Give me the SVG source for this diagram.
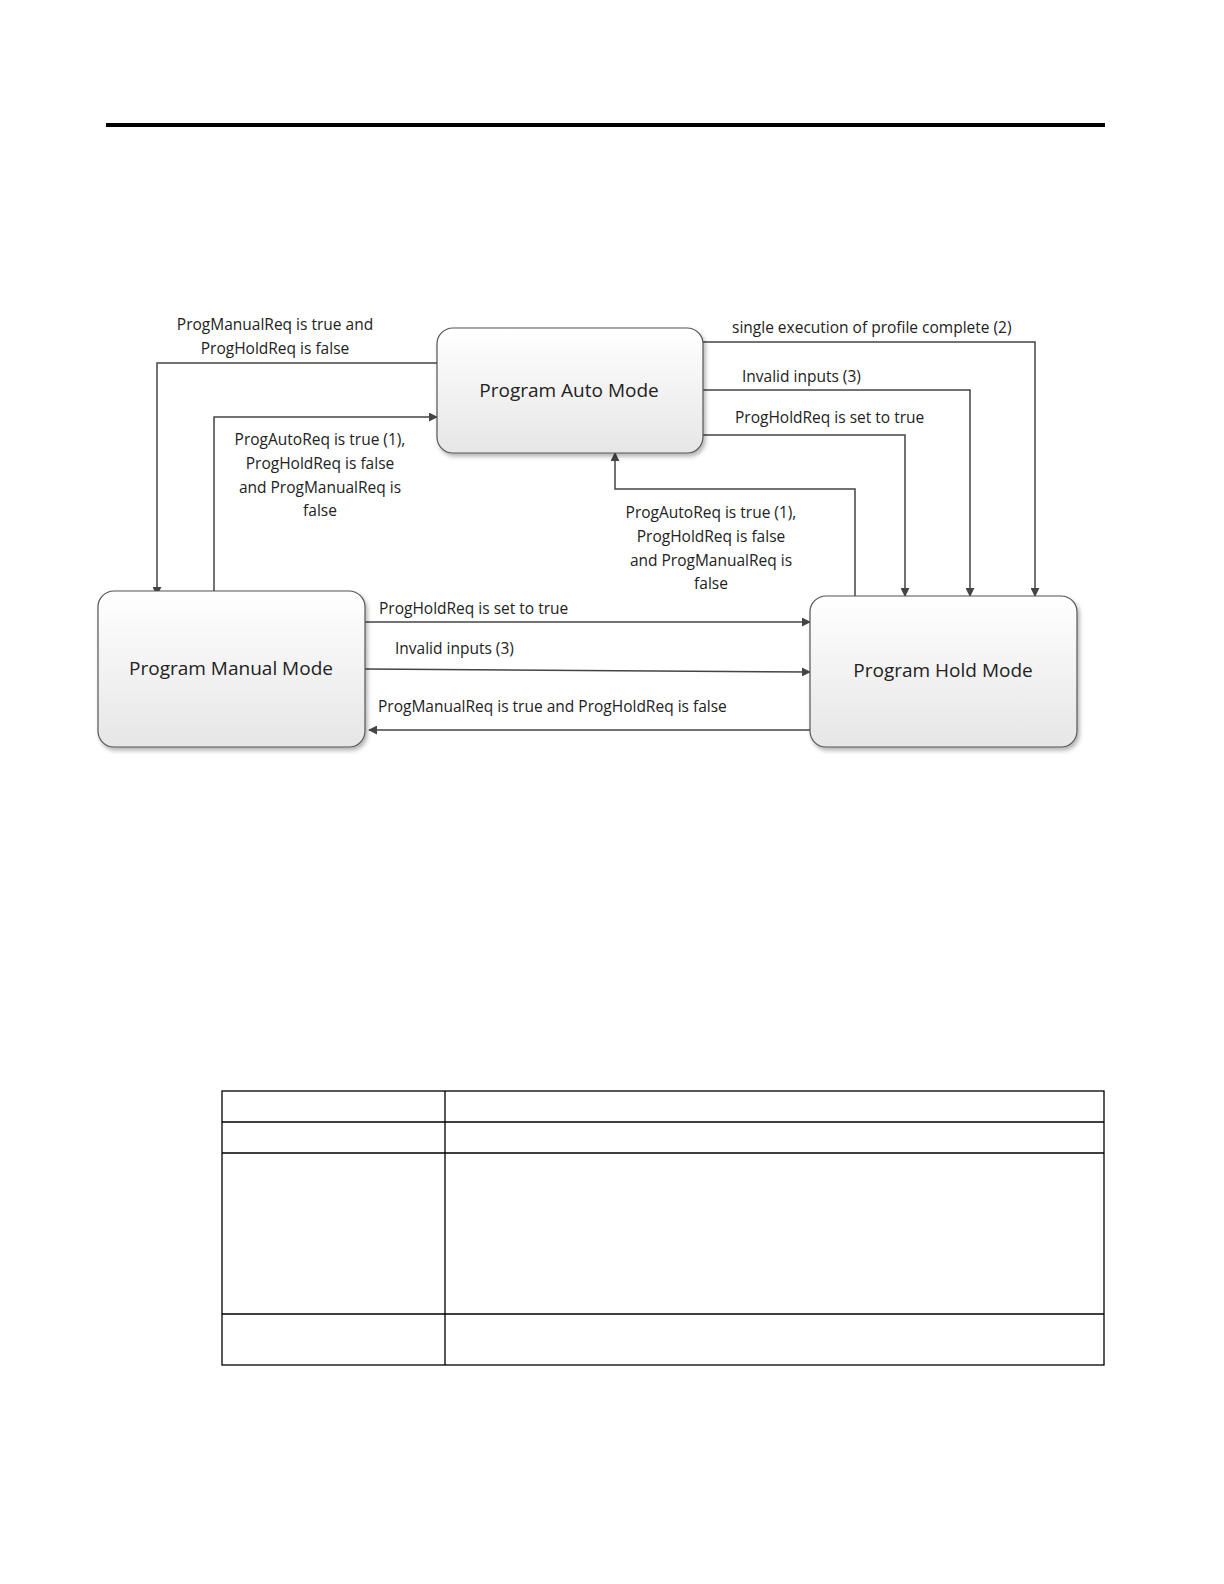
<svg xmlns="http://www.w3.org/2000/svg" width="1224" height="1584" viewBox="0 0 1224 1584">
<style>
.lbl{font-family:"Open Sans","Noto Sans",sans-serif;font-size:15.5px;fill:#222}
.nm{font-family:"Open Sans","Noto Sans",sans-serif;font-size:19px;fill:#222;text-anchor:middle}
.c{fill:none;stroke:#444;stroke-width:1.5}
.box{fill:url(#g);stroke:#555;stroke-width:1.2;filter:url(#sh)}
.tb{fill:none;stroke:#000;stroke-width:1.3}
</style>
<defs>
<linearGradient id="g" x1="0" y1="0" x2="0" y2="1"><stop offset="0" stop-color="#ffffff"/><stop offset="1" stop-color="#e6e6e6"/></linearGradient>
<filter id="sh" x="-10%" y="-10%" width="125%" height="125%"><feDropShadow dx="2" dy="3" stdDeviation="2" flood-color="#000" flood-opacity="0.3"/></filter>
<marker id="a" viewBox="0 0 10 10" refX="9" refY="5" markerWidth="9" markerHeight="9" markerUnits="userSpaceOnUse" orient="auto"><path d="M0,0L10,5L0,10z" fill="#444"/></marker>
</defs>
<rect x="106" y="123" width="999" height="4" fill="#000"/>
<g id="connectors">
<path class="c" marker-end="url(#a)" d="M437,363H157V595"/>
<path class="c" marker-end="url(#a)" d="M214,591V417H437"/>
<path class="c" marker-end="url(#a)" d="M703,342H1035V596"/>
<path class="c" marker-end="url(#a)" d="M703,390H970V596"/>
<path class="c" marker-end="url(#a)" d="M703,435H905V596"/>
<path class="c" marker-end="url(#a)" d="M855,596V489H615V453"/>
<path class="c" marker-end="url(#a)" d="M365,622H810"/>
<path class="c" marker-end="url(#a)" d="M365,669L810,672"/>
<path class="c" marker-end="url(#a)" d="M810,730H369"/>
<text class="lbl" x="275" y="330" text-anchor="middle">ProgManualReq is true and</text>
<text class="lbl" x="275" y="354" text-anchor="middle">ProgHoldReq is false</text>
<text class="lbl" x="320" y="445" text-anchor="middle">ProgAutoReq is  true (1),</text>
<text class="lbl" x="320" y="469" text-anchor="middle">ProgHoldReq is false</text>
<text class="lbl" x="320" y="493" text-anchor="middle">and ProgManualReq is</text>
<text class="lbl" x="320" y="516" text-anchor="middle">false</text>
<text class="lbl" x="732" y="333">single execution of profile complete (2)</text>
<text class="lbl" x="742" y="382">Invalid inputs (3)</text>
<text class="lbl" x="735" y="423">ProgHoldReq is set to true</text>
<text class="lbl" x="711" y="518" text-anchor="middle">ProgAutoReq is  true (1),</text>
<text class="lbl" x="711" y="542" text-anchor="middle">ProgHoldReq is false</text>
<text class="lbl" x="711" y="566" text-anchor="middle">and ProgManualReq is</text>
<text class="lbl" x="711" y="589" text-anchor="middle">false</text>
<text class="lbl" x="379" y="614">ProgHoldReq is set to true</text>
<text class="lbl" x="395" y="654">Invalid inputs (3)</text>
<text class="lbl" x="378" y="712">ProgManualReq is true and ProgHoldReq is false</text>
</g>
<g id="auto"><rect class="box" x="437" y="328" width="266" height="125" rx="16"/><text class="nm" x="569" y="397">Program Auto Mode</text></g>
<g id="manual"><rect class="box" x="98" y="591" width="267" height="156" rx="16"/><text class="nm" x="231" y="675">Program Manual Mode</text></g>
<g id="hold"><rect class="box" x="810" y="596" width="267" height="151" rx="16"/><text class="nm" x="943" y="677">Program Hold Mode</text></g>
<g id="table">
<rect class="tb" x="222" y="1091" width="882" height="274"/>
<path class="tb" d="M222,1122H1104M222,1153H1104M222,1314H1104M445,1091V1365"/>
</g>
</svg>
